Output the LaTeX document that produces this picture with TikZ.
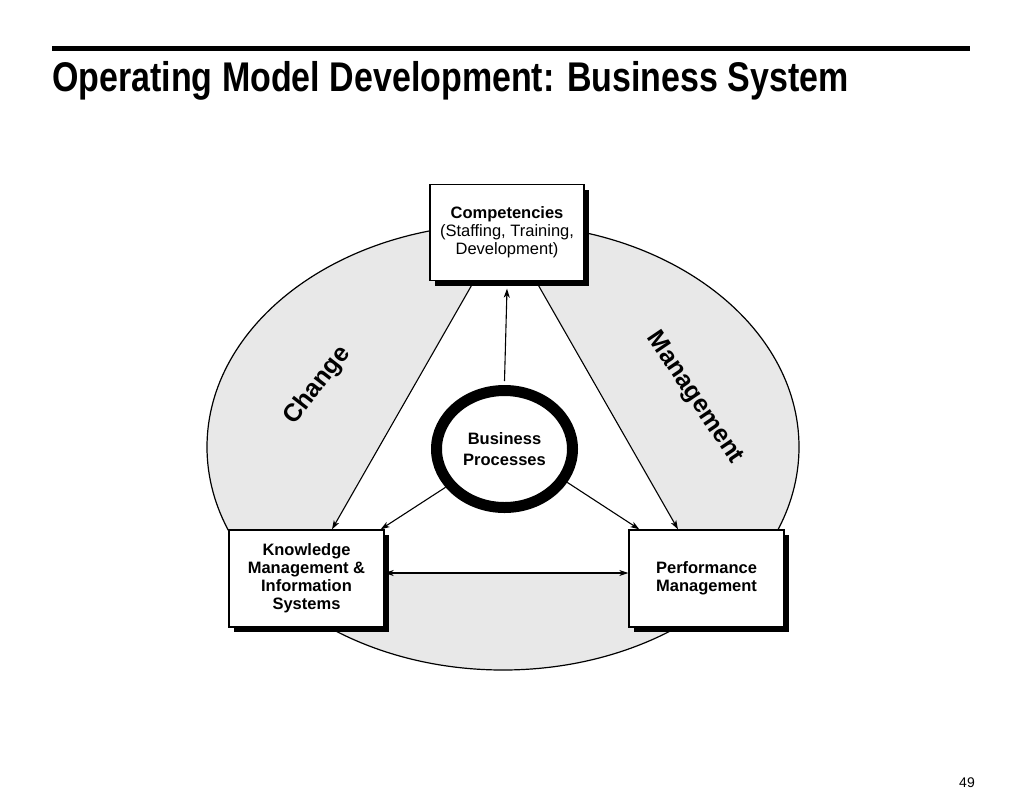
\documentclass[tikz,border=0pt]{standalone}
\usepackage{fontspec}
\setmainfont{Liberation Sans}
\usetikzlibrary{shapes.geometric,shadows,arrows.meta,backgrounds}
\definecolor{ringgray}{RGB}{232,232,232}
\begin{document}
\begin{tikzpicture}[x=1pt,y=1pt,
  boxsty/.style={draw=black, line width=1.3pt, fill=white, minimum width=154pt,
    minimum height=96pt, inner sep=0pt, align=center,
    font=\fontsize{16.5}{18}\selectfont\bfseries,
    drop shadow={shadow xshift=5pt, shadow yshift=-5pt, fill=black, opacity=1}},
  conn/.style={line width=1.1pt, -{Stealth[length=9pt,width=6pt,inset=2.5pt]}},
  both/.style={line width=1.1pt, {Stealth[length=9pt,width=6pt,inset=2.5pt]}-{Stealth[length=9pt,width=6pt,inset=2.5pt]}},
  bigword/.style={font=\fontsize{25}{25}\selectfont\bfseries, inner sep=0pt}
]
\useasboundingbox (0,0) rectangle (1024,-798);

% title and rule
\fill[black] (52,-46) rectangle (970,-51);
\node[anchor=base west, inner sep=0pt] (title) at (52,-91)
  {\scalebox{0.819}[1]{\fontsize{41.5}{41.5}\selectfont\bfseries Operating Model Development: Business System}};

% boxes
\node[boxsty, font=\fontsize{16.5}{18}\selectfont\mdseries] (comp) at (507,-232.5)
  {\textbf{Competencies}\\(Staffing, Training,\\Development)};
\node[boxsty, minimum width=155pt, minimum height=97pt] (kms) at (306.5,-578.5)
  {Knowledge\\Management \&\\Information\\Systems};
\node[boxsty, minimum width=155pt, minimum height=97pt] (pm) at (706.5,-578.5)
  {Performance\\Management};

% central ellipse
\node[ellipse, draw=black, fill=white, line width=11pt, minimum width=136pt,
  minimum height=117pt, inner sep=0pt, align=center,
  font=\fontsize{16.5}{21}\selectfont\bfseries] (bp) at (504.5,-449)
  {Business\\Processes};

% rotated words
\node[bigword, rotate=52] (chg) at (317.5,-385.5) {Change};
\node[bigword, rotate=-56] (mgt) at (694.5,-398) {Management};

% page number
\node[anchor=base east, inner sep=0pt, font=\fontsize{14}{14}\selectfont] (pg) at (975,-787) {49};

% connectors
\draw[conn] ([yshift=4pt]bp.north) -- ([yshift=-7.5pt]comp.south);
\draw[conn] (bp.213) -- ([xshift=-4pt]kms.north east);
\draw[conn] (bp.-28) -- ([xshift=11pt]pm.north west);
\draw[conn] ([xshift=-33pt]comp.south) -- ([xshift=25.5pt]kms.north);
\draw[conn] ([xshift=29pt]comp.south) -- ([xshift=-28.5pt]pm.north);
\draw[both] ([yshift=5.5pt]kms.east) -- ([yshift=5.5pt]pm.west);

% background
\begin{scope}[on background layer]
\fill[white] (0,0) rectangle (1024,-798);
\draw[line width=1.2pt, fill=ringgray] (503,-447) ellipse [x radius=296, y radius=223];
\fill[white] ([xshift=-33pt]comp.south) -- ([xshift=29pt]comp.south)
  -- ([xshift=-28.5pt]pm.north) -- ([yshift=5.5pt]pm.west)
  -- ([yshift=5.5pt]kms.east) -- ([xshift=25.5pt]kms.north) -- cycle;
\end{scope}
\end{tikzpicture}
\end{document}
